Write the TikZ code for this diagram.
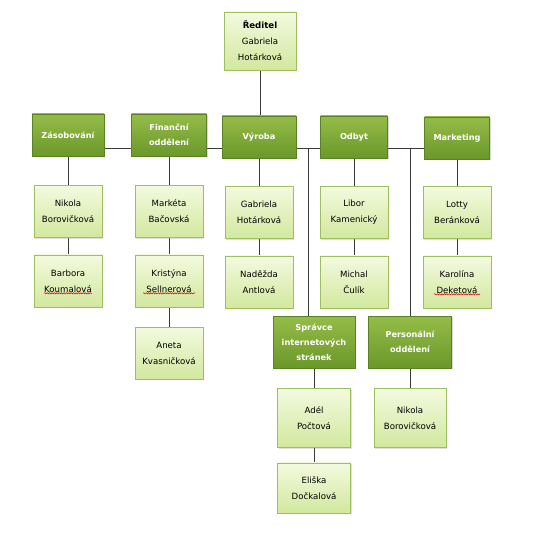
\documentclass[tikz,border=0pt]{standalone}
\usepackage{fontspec}
\setmainfont{DejaVu Sans}
\usetikzlibrary{positioning,shadows,backgrounds,decorations.pathmorphing}
\definecolor{deptTop}{HTML}{95BC48}
\definecolor{deptBot}{HTML}{6A982A}
\definecolor{persTop}{HTML}{F3FADF}
\definecolor{persBot}{HTML}{D2E89E}
\definecolor{persLine}{HTML}{9DBF60}
\definecolor{linkCol}{HTML}{3A3A3A}

\begin{document}
\begin{tikzpicture}[
    x=1pt, y=-1pt,
    node distance=17pt,
    dept/.style={draw=deptBot!85!black, top color=deptTop, bottom color=deptBot, text=white, font=\fontsize{8.2}{15}\selectfont\bfseries, align=center, minimum width=72pt, minimum height=42pt, inner sep=2pt, drop shadow={opacity=0.3, shadow xshift=1.2pt, shadow yshift=-1.2pt}},
    pers/.style={draw=persLine, top color=persTop, bottom color=persBot, text=black, font=\fontsize{8.6}{16}\selectfont, align=center, minimum width=68pt, minimum height=52pt, inner sep=2pt, drop shadow={opacity=0.25, shadow xshift=1.2pt, shadow yshift=-1.2pt}},
    link/.style={draw=linkCol, line width=0.9pt},
    spell/.style={draw=red!85!black, line width=0.5pt, decorate, decoration={snake, amplitude=0.6pt, segment length=2.4pt}}
]
\useasboundingbox (0,0) rectangle (538,556);

% --- director ---
\node[pers, minimum width=72pt, minimum height=58pt] (red) at (260,41) {\textbf{Ředitel}\\Gabriela\\Hotárková};

% --- departments ---
\node[dept] (zas) at (68,135) {Zásobování};
\node[dept, minimum width=75pt] (fin) at (169,135) {Finanční\\oddělení};
\node[dept, minimum width=74pt] (vyr) at (259,137) {Výroba};
\node[dept, minimum width=67pt] (odb) at (354,137) {Odbyt};
\node[dept, minimum width=65pt] (mkt) at (457,138) {Marketing};
\node[dept, minimum width=82pt, minimum height=52pt] (spr) at (314,342) {Správce\\internetových\\stránek};
\node[dept, minimum width=83pt, minimum height=52pt] (per) at (410,342) {Personální\\oddělení};

% --- staff ---
\node[pers, below=29pt of zas] (nik) {Nikola\\Borovičková};
\node[pers, below=of nik] (barb) {Barbora\\Koumalová};
\node[pers, below=29pt of fin] (mar) {Markéta\\Bačovská};
\node[pers, below=of mar] (kri) {Kristýna\\Sellnerová};
\node[pers, below=20pt of kri] (ane) {Aneta\\Kvasničková};
\node[pers, below=28pt of vyr] (gab) {Gabriela\\Hotárková};
\node[pers, below=of gab] (nad) {Naděžda\\Antlová};
\node[pers, below=28pt of odb] (lib) {Libor\\Kamenický};
\node[pers, below=of lib] (mic) {Michal\\Čulík};
\node[pers, below=27pt of mkt] (lot) {Lotty\\Beránková};
\node[pers, below=of lot] (kar) {Karolína\\Deketová};
\node[pers, below=20pt of spr, minimum width=73pt, minimum height=59pt] (ade) {Adél\\Počtová};
\node[pers, below=15pt of ade, minimum width=73pt, minimum height=50pt] (eli) {Eliška\\Dočkalová};
\node[pers, below=20pt of per, minimum width=72pt, minimum height=59pt] (nik2) {Nikola\\Borovičková};

% spell-check marks
\draw[spell] ([xshift=-24pt, yshift=-12.5pt]barb.center) -- ++(48pt,0);
\draw[spell] ([xshift=-26pt, yshift=-12.5pt]kri.center) -- ++(52pt,0);
\draw[spell] ([xshift=-23pt, yshift=-12.5pt]kar.center) -- ++(46pt,0);

% --- connectors ---
\begin{scope}[on background layer]
\fill[white] (0,0) rectangle (538,556);
\coordinate (rail) at (0,148);
\draw[link] (zas.east |- rail) -- (mkt.west |- rail);
\draw[link] (red.south) -- (red.south |- vyr.north);
\draw[link] ([xshift=-6pt]spr.north |- rail) -- ([xshift=-6pt]spr.north);
\draw[link] (per.north |- rail) -- (per.north);
\draw[link] (zas) -- (nik); \draw[link] (nik) -- (barb);
\draw[link] (fin) -- (mar); \draw[link] (mar) -- (kri); \draw[link] (kri) -- (ane);
\draw[link] (vyr) -- (gab); \draw[link] (gab) -- (nad);
\draw[link] (odb) -- (lib); \draw[link] (lib) -- (mic);
\draw[link] (mkt) -- (lot); \draw[link] (lot) -- (kar);
\draw[link] (spr) -- (ade); \draw[link] (ade) -- (eli);
\draw[link] (per) -- (nik2);
\end{scope}
\end{tikzpicture}
\end{document}
